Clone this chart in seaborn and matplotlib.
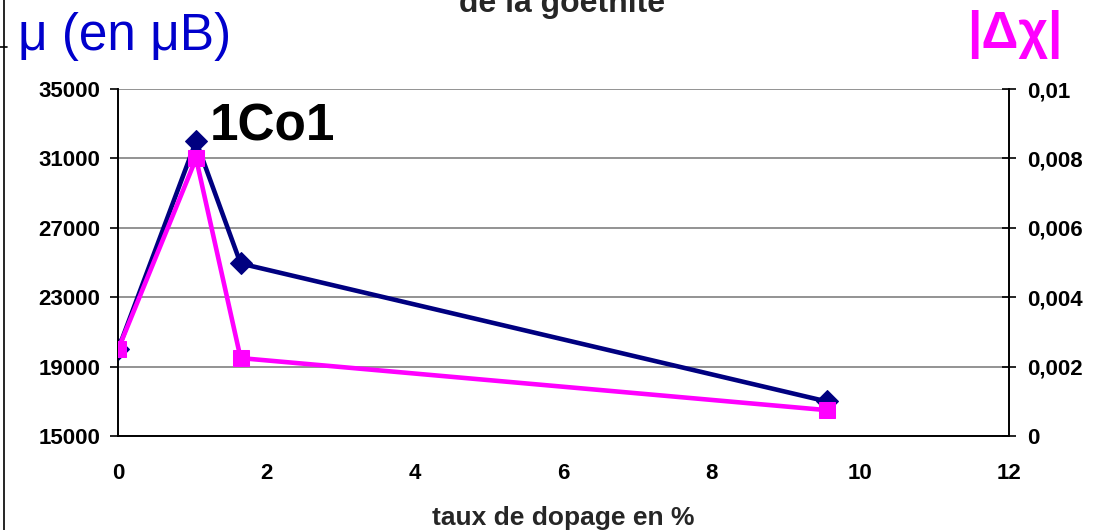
import matplotlib
matplotlib.use("Agg")
import matplotlib.pyplot as plt
import seaborn as sns
import pandas as pd

# Data
doping = [0, 1.05, 1.65, 9.55]
mu_values = [20000, 32000, 24950, 17000]
dchi_values = [0.0025, 0.0080, 0.00225, 0.00075]
x_ticks = [0, 2, 4, 6, 8, 10, 12]
left_ticks = [15000, 19000, 23000, 27000, 31000, 35000]
right_ticks = [0, 0.002, 0.004, 0.006, 0.008, 0.01]
right_labels = ["0", "0,002", "0,004", "0,006", "0,008", "0,01"]

sns.set_style("white")
plt.rcParams['font.family'] = ['Liberation Sans', 'DejaVu Sans']

navy = "#000080"
magenta = "#FF00FF"

fig = plt.figure(figsize=(10.94, 5.30), dpi=100)
ax = fig.add_axes([0.108, 0.177, 0.814, 0.655])
ax2 = ax.twinx()

df = pd.DataFrame({"x": doping, "mu": mu_values, "dchi": dchi_values})

sns.lineplot(data=df, x="x", y="mu", ax=ax, color=navy, lw=3.3,
             marker="D", markersize=11, markeredgecolor=navy, zorder=3)
sns.lineplot(data=df, x="x", y="dchi", ax=ax2, color=magenta, lw=3.3,
             marker="s", markersize=12, markeredgecolor=magenta, zorder=3)

ax.set_xlim(0, 12)
ax.set_ylim(15000, 35000)
ax2.set_ylim(0, 0.01)
ax.set_xticks(x_ticks)
ax.set_xticklabels([str(t) for t in x_ticks], fontsize=16, fontweight="bold")
ax.set_yticks(left_ticks)
ax.set_yticklabels([str(t) for t in left_ticks], fontsize=16, fontweight="bold")
ax2.set_yticks(right_ticks)
ax2.set_yticklabels(right_labels, fontsize=16, fontweight="bold")

ax.grid(axis="y", color="#808080", lw=1.2)
ax.set_axisbelow(True)
for a in (ax, ax2):
    a.spines["top"].set_visible(False)
    for s in ("left", "right", "bottom"):
        a.spines[s].set_color("black")
        a.spines[s].set_linewidth(1.2)
ax.tick_params(axis="y", direction="out", length=6, width=1.2, pad=7, colors="black")
ax.tick_params(axis="x", direction="out", length=6, width=1.2, pad=13, colors="black")
ax2.tick_params(axis="y", direction="inout", length=10, width=1.2, pad=8, colors="black")
ax.set_xlabel("")
ax.set_ylabel("")
ax2.set_ylabel("")

ax.text(1.24, 32060, "1Co1", fontsize=37, fontweight="bold", color="black", va="baseline")

fig.text(0.5146, 0.0094, "taux de dopage en %", fontsize=19, fontweight="bold",
         ha="center", va="baseline")
fig.text(0.016, 0.932, "μ (en μB)", fontsize=37, color="#0000CC", va="center", ha="left")
fig.text(0.971, 0.934, "|Δχ|", fontsize=37, fontweight="bold", color=magenta, va="center", ha="right")
fig.text(0.5137, 0.977, "de la goethite", fontsize=23, fontweight="bold", ha="center", va="baseline")

# left frame line
fig.add_artist(plt.Line2D([0.0035, 0.0035], [0, 1], transform=fig.transFigure, color="black", lw=1.2))
fig.add_artist(plt.Line2D([0, 0.006], [0.912, 0.912], transform=fig.transFigure, color="black", lw=1.2))

fig.savefig("out.png", dpi=100)
